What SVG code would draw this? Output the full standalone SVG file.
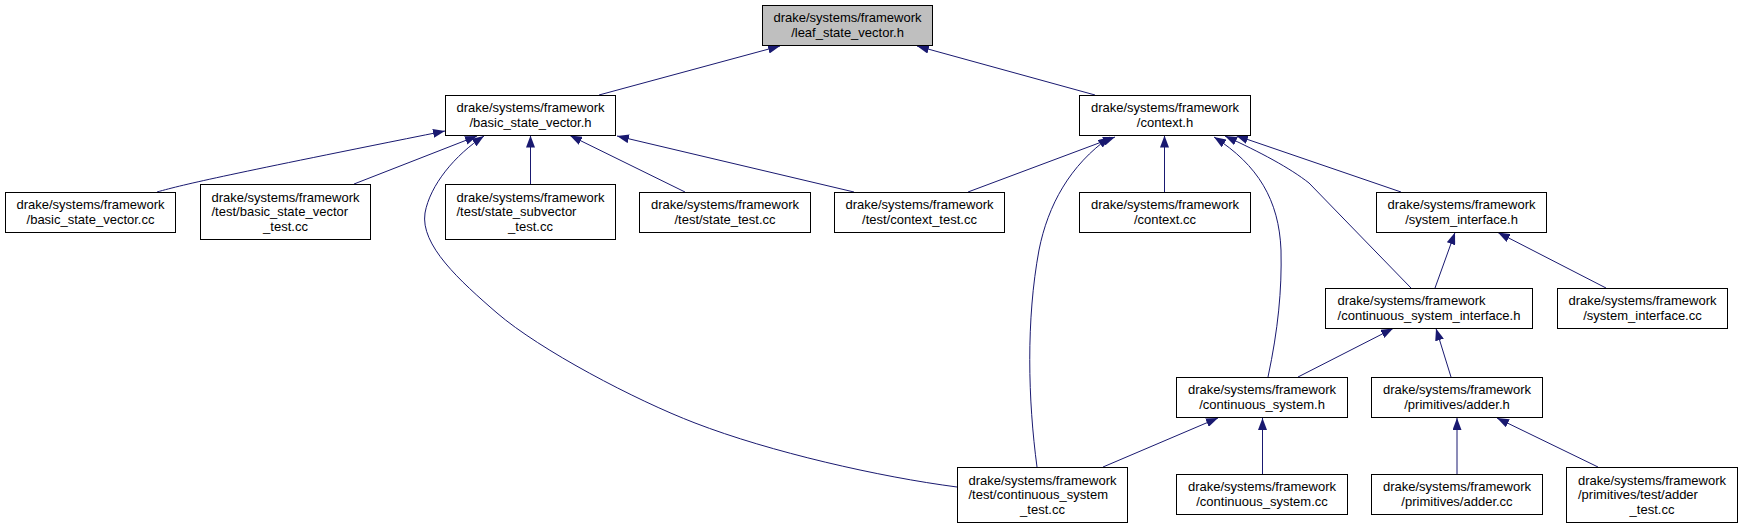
<svg xmlns="http://www.w3.org/2000/svg" width="1743" height="528" viewBox="0 0 1743 528">
<style>
.box{fill:#ffffff;stroke:#000000;stroke-width:1}
.hl{fill:#bfbfbf}
text{font-family:"Liberation Sans",Arial,sans-serif;font-size:13px;fill:#000000}
.c{text-anchor:middle}
.s{text-anchor:start}
.e{fill:none;stroke:#191970;stroke-width:1;marker-end:url(#ah)}
</style>
<defs>
<marker id="ah" markerUnits="userSpaceOnUse" viewBox="0 0 12 9" markerWidth="12" markerHeight="9" refX="12" refY="4.5" orient="auto">
<path d="M0,0 L12,4.5 L0,9 z" fill="#191970"/>
</marker>
</defs>
<rect width="1743" height="528" fill="#ffffff"/>
<g id="edges">
<path class="e" d="M599,95 L780,46"/>
<path class="e" d="M1095,95 L917,46"/>
<path class="e" d="M157,192 C185,184 230,174 445,131"/>
<path class="e" d="M354,184 L477,136"/>
<path class="e" d="M957,487 C880,477 770,452 695,423 C635,400 540,350 497,313 C460,281 420,245 425,213 C430,185 455,155 484,136"/>
<path class="e" d="M530.5,184 L530.5,135.5"/>
<path class="e" d="M685,192 L570,135.5"/>
<path class="e" d="M854,192 L617,136"/>
<path class="e" d="M968,192 L1115,137"/>
<path class="e" d="M1037,467 C1028,400 1026,320 1039,250 C1048,205 1070,165 1110,137"/>
<path class="e" d="M1164.5,192 L1164.5,135.5"/>
<path class="e" d="M1268,377 C1278,330 1282,290 1281,250 C1279,200 1258,165 1214,137"/>
<path class="e" d="M1411,288 L1309,183 C1290,168 1260,152 1225,136"/>
<path class="e" d="M1401,192 L1236,135.5"/>
<path class="e" d="M1435,288 L1455,232.5"/>
<path class="e" d="M1606,288 L1498,232.5"/>
<path class="e" d="M1298,377 L1393,328.5"/>
<path class="e" d="M1451,377 L1436,328.5"/>
<path class="e" d="M1103,467 L1218,418"/>
<path class="e" d="M1262.5,474 L1262.5,418"/>
<path class="e" d="M1457,474 L1457,418"/>
<path class="e" d="M1598,467 L1497,418"/>
</g>
<g id="leaf_state_vector_h"><rect class="box hl" x="762.5" y="5.5" width="170" height="40"/><text class="c" x="847.5" y="21.5">drake/systems/framework</text><text class="c" x="847.5" y="36.5">/leaf_state_vector.h</text></g>
<g id="basic_state_vector_h"><rect class="box" x="445.5" y="95.5" width="170" height="40"/><text class="c" x="530.5" y="111.5">drake/systems/framework</text><text class="c" x="530.5" y="126.5">/basic_state_vector.h</text></g>
<g id="context_h"><rect class="box" x="1079.5" y="95.5" width="171" height="40"/><text class="c" x="1165" y="111.5">drake/systems/framework</text><text class="c" x="1165" y="126.5">/context.h</text></g>
<g id="basic_state_vector_cc"><rect class="box" x="5.5" y="192.5" width="170" height="40"/><text class="c" x="90.5" y="208.5">drake/systems/framework</text><text class="c" x="90.5" y="223.5">/basic_state_vector.cc</text></g>
<g id="basic_state_vector_test_cc"><rect class="box" x="200.5" y="184.5" width="170" height="55"/><text class="c" x="285.5" y="201.5">drake/systems/framework</text><text class="s" x="211.5" y="216">/test/basic_state_vector</text><text class="c" x="285.5" y="230.5">_test.cc</text></g>
<g id="state_subvector_test_cc"><rect class="box" x="445.5" y="184.5" width="170" height="55"/><text class="c" x="530.5" y="201.5">drake/systems/framework</text><text class="s" x="456.5" y="216">/test/state_subvector</text><text class="c" x="530.5" y="230.5">_test.cc</text></g>
<g id="state_test_cc"><rect class="box" x="639.5" y="192.5" width="171" height="40"/><text class="c" x="725" y="208.5">drake/systems/framework</text><text class="c" x="725" y="223.5">/test/state_test.cc</text></g>
<g id="context_test_cc"><rect class="box" x="834.5" y="192.5" width="170" height="40"/><text class="c" x="919.5" y="208.5">drake/systems/framework</text><text class="c" x="919.5" y="223.5">/test/context_test.cc</text></g>
<g id="context_cc"><rect class="box" x="1079.5" y="192.5" width="171" height="40"/><text class="c" x="1165" y="208.5">drake/systems/framework</text><text class="c" x="1165" y="223.5">/context.cc</text></g>
<g id="system_interface_h"><rect class="box" x="1376.5" y="192.5" width="170" height="40"/><text class="c" x="1461.5" y="208.5">drake/systems/framework</text><text class="c" x="1461.5" y="223.5">/system_interface.h</text></g>
<g id="continuous_system_interface_h"><rect class="box" x="1325.5" y="288.5" width="207" height="40"/><text class="s" x="1337.5" y="304.5">drake/systems/framework</text><text class="c" x="1429" y="319.5">/continuous_system_interface.h</text></g>
<g id="system_interface_cc"><rect class="box" x="1557.5" y="288.5" width="170" height="40"/><text class="c" x="1642.5" y="304.5">drake/systems/framework</text><text class="c" x="1642.5" y="319.5">/system_interface.cc</text></g>
<g id="continuous_system_h"><rect class="box" x="1176.5" y="377.5" width="171" height="40"/><text class="c" x="1262" y="393.5">drake/systems/framework</text><text class="c" x="1262" y="408.5">/continuous_system.h</text></g>
<g id="adder_h"><rect class="box" x="1371.5" y="377.5" width="171" height="40"/><text class="c" x="1457" y="393.5">drake/systems/framework</text><text class="c" x="1457" y="408.5">/primitives/adder.h</text></g>
<g id="continuous_system_test_cc"><rect class="box" x="957.5" y="467.5" width="170" height="55"/><text class="c" x="1042.5" y="484.5">drake/systems/framework</text><text class="s" x="968.5" y="499">/test/continuous_system</text><text class="c" x="1042.5" y="513.5">_test.cc</text></g>
<g id="continuous_system_cc"><rect class="box" x="1176.5" y="474.5" width="171" height="40"/><text class="c" x="1262" y="490.5">drake/systems/framework</text><text class="c" x="1262" y="505.5">/continuous_system.cc</text></g>
<g id="adder_cc"><rect class="box" x="1371.5" y="474.5" width="171" height="40"/><text class="c" x="1457" y="490.5">drake/systems/framework</text><text class="c" x="1457" y="505.5">/primitives/adder.cc</text></g>
<g id="adder_test_cc"><rect class="box" x="1566.5" y="467.5" width="171" height="55"/><text class="c" x="1652" y="484.5">drake/systems/framework</text><text class="s" x="1578" y="499">/primitives/test/adder</text><text class="c" x="1652" y="513.5">_test.cc</text></g>
</svg>
